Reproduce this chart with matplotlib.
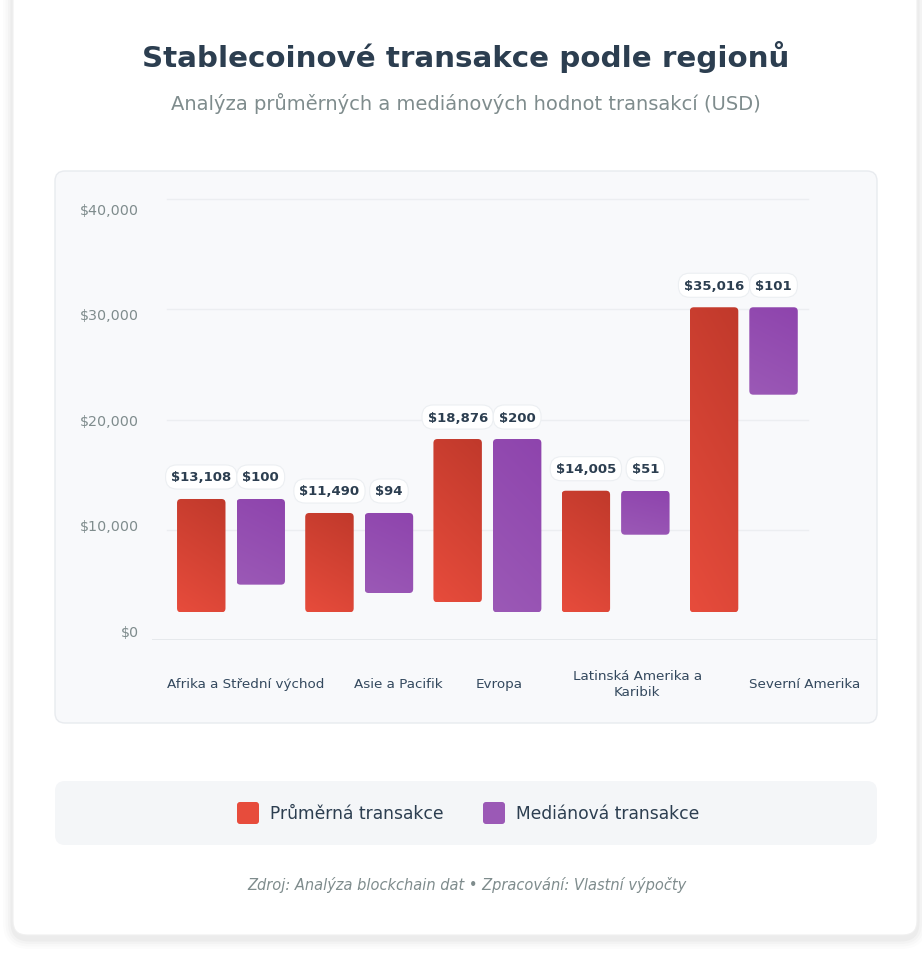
import numpy as np
import matplotlib
matplotlib.use("Agg")
import matplotlib.pyplot as plt
from matplotlib.patches import FancyBboxPatch
from matplotlib.transforms import blended_transform_factory
from matplotlib.colors import to_rgb

# ---------------- data ----------------
regions = ['Afrika a Střední východ', 'Asie a Pacifik', 'Evropa',
           'Latinská Amerika a\nKaribik', 'Severní Amerika']
mean_usd = [13108, 11490, 18876, 14005, 35016]
median_usd = [100, 94, 200, 51, 101]
# bar extents as rendered against the chart's USD axis
mean_bar_top = [12790, 11520, 18230, 13540, 30180]
mean_bar_base = [2510, 2510, 3420, 2510, 2510]
median_bar_top = [12790, 11520, 18230, 13540, 30180]
median_bar_base = [5020, 4260, 2510, 9550, 22250]
y_ticks = [0, 10000, 20000, 30000, 40000]
y_tick_labels = ['$0', '$10,000', '$20,000', '$30,000', '$40,000']
series_names = ['Průměrná transakce', 'Mediánová transakce']

# ---------------- layout ----------------
W, H = 922, 970
fig = plt.figure(figsize=(W / 100, H / 100), dpi=100)
fig.patch.set_facecolor('white')

bg = fig.add_axes([0, 0, 1, 1])
bg.set_xlim(0, W)
bg.set_ylim(H, 0)
bg.axis('off')

DARK = '#2c3e50'
GRAY = '#7f8c8d'

def rbox(ax, x0, y0, x1, y1, r, **kw):
    p = FancyBboxPatch((x0, y0), x1 - x0, y1 - y0,
                       boxstyle=f'round,pad=0,rounding_size={r}', **kw)
    ax.add_patch(p)
    return p

# outer card with soft shadow
for i, a in enumerate([0.010, 0.015, 0.02, 0.028]):
    g = 10 - 2.5 * i
    rbox(bg, 13 - g, -30 - g + 6, 917 + g, 936 + g + 4, 16 + g,
         fc='black', ec='none', alpha=a, zorder=0)
rbox(bg, 13, -30, 917, 936, 14, fc='white', ec='#f0f0f0', lw=0.8, zorder=1)

# chart card
rbox(bg, 55, 172, 877, 724, 10, fc='#f8f9fb', ec='#e8ebef', lw=1.0, zorder=2)
# legend card
rbox(bg, 55, 782, 877, 846, 10, fc='#f4f6f8', ec='none', zorder=2)

# titles
bg.text(466, 57, 'Stablecoinové transakce podle regionů', ha='center', va='center',
        fontsize=21.2, fontweight='bold', color=DARK, zorder=5)
bg.text(466, 104, 'Analýza průměrných a mediánových hodnot transakcí (USD)',
        ha='center', va='center', fontsize=14, color=GRAY, zorder=5)

# ---------------- plot axes ----------------
ax_l, ax_r, ax_t, ax_b = 152, 877, 190, 641
ax = fig.add_axes([ax_l / W, 1 - ax_b / H, (ax_r - ax_l) / W, (ax_b - ax_t) / H])
ax.set_facecolor('none')
ax.patch.set_alpha(0)
for s in ax.spines.values():
    s.set_visible(False)
ax.set_xticks([])
ax.set_yticks([])
ax.set_zorder(3)

px_per_unit_y = 110.25 / 10000.0
group0_px, group_step_px = 231.0, 128.2
xlim = ((ax_l - group0_px) / group_step_px, (ax_r - group0_px) / group_step_px)
ylim = (0, (ax_b - ax_t) / px_per_unit_y)

# gridlines
gx0 = (167 - ax_l) / (ax_r - ax_l)
gx1 = (808 - ax_l) / (ax_r - ax_l)
for v in y_ticks[1:]:
    ax.axhline(v, gx0, gx1, color='#eceef1', lw=1.0, zorder=0)
ax.axhline(0, 0, 1, color='#e3e6ea', lw=1.2, zorder=0)

x = np.arange(len(regions))
offset = 0.232
width = 0.378

colors = [('#c0392b', '#e74c3c'), ('#8e44ad', '#9b59b6')]
bars_mean = ax.bar(x - offset, np.array(mean_bar_top) - np.array(mean_bar_base),
                   width, bottom=mean_bar_base, color='none', zorder=2)
bars_med = ax.bar(x + offset, np.array(median_bar_top) - np.array(median_bar_base),
                  width, bottom=median_bar_base, color='none', zorder=2)

x_per_px = 1.0 / group_step_px
y_per_px = 1.0 / px_per_unit_y
r_px = 4

def gradient(dark, light, n=120, m=40):
    d = np.array(to_rgb(dark)); l = np.array(to_rgb(light))
    rows = np.linspace(0, 1, n)[:, None]
    cols = np.linspace(0, 1, m)[None, :]
    t = 0.78 * rows + 0.22 * (1 - cols)
    t = np.clip(t, 0, 1)
    return d[None, None, :] + (l - d)[None, None, :] * t[:, :, None]

for bars, (dk, lt) in zip([bars_mean, bars_med], colors):
    img = gradient(dk, lt)
    for rect in bars:
        x0, y0 = rect.get_x(), rect.get_y()
        w, h = rect.get_width(), rect.get_height()
        clip = FancyBboxPatch((x0, y0), w, h,
                              boxstyle=f'round,pad=0,rounding_size={r_px * x_per_px}',
                              mutation_aspect=y_per_px / x_per_px,
                              fc='none', ec='none', transform=ax.transData)
        ax.add_patch(clip)
        im = ax.imshow(img, extent=(x0, x0 + w, y0, y0 + h), aspect='auto',
                       zorder=2, interpolation='bilinear')
        im.set_clip_path(clip)

# value pills
def pill(xc, ytop, txt):
    ax.annotate(txt, xy=(xc, ytop), xytext=(0, 22), textcoords='offset pixels',
                ha='center', va='center', fontsize=9.5, fontweight='bold', color=DARK,
                zorder=6,
                bbox=dict(boxstyle='round,pad=0.42,rounding_size=0.85', fc='white',
                          ec='#eceff2', lw=0.8))

for i in range(len(regions)):
    pill(x[i] - offset, mean_bar_top[i], f'${mean_usd[i]:,}')
    pill(x[i] + offset, median_bar_top[i], f'${median_usd[i]:,}')

ax.set_xlim(*xlim)
ax.set_ylim(*ylim)

# y tick labels (as rendered, slightly offset from gridlines)
for k, lab in enumerate(y_tick_labels):
    bg.text(139, 633 - 105.5 * k, lab, ha='right', va='center', fontsize=10.3,
            color=GRAY, zorder=5)

# x category labels
label_pos = [0.117, 1.303, 2.09, 3.168, 4.476]
tr = blended_transform_factory(ax.transData, bg.transData)
for pos, name in zip(label_pos, regions):
    ax.text(pos, 685, name, transform=tr, ha='center', va='center', fontsize=9.7,
            color='#34495e', linespacing=1.3, zorder=5, clip_on=False)

# legend
for (sx, tx, name, (dk, lt)) in [(237, 270, series_names[0], colors[0]),
                                   (483, 516, series_names[1], colors[1])]:
    sq = rbox(bg, sx, 803, sx + 22, 825, 3, fc=lt, ec='none', zorder=5)
    bg.text(tx, 814, name, ha='left', va='center', fontsize=12.3, color=DARK, zorder=5)

# footer
bg.text(467, 885, 'Zdroj: Analýza blockchain dat • Zpracování: Vlastní výpočty',
        ha='center', va='center', fontsize=10.5, style='italic', color=GRAY, zorder=5)

fig.savefig('out.png', dpi=100, facecolor='white')
